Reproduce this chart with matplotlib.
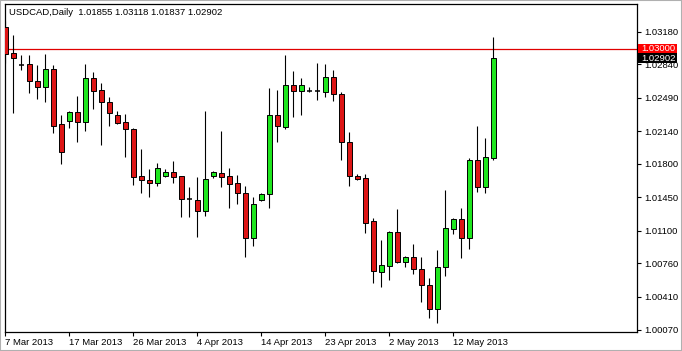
import matplotlib.pyplot as plt
import matplotlib.transforms as mtransforms
from matplotlib.patches import Rectangle
import numpy as np
import pandas as pd

plt.rcParams['font.family'] = ['Liberation Sans', 'DejaVu Sans']

symbol = "USDCAD,Daily"
# daily bars: the broker has Sunday sessions, no Saturdays
dates = pd.bdate_range("2013-03-07", "2013-05-17", freq="C",
                       weekmask="Sun Mon Tue Wed Thu Fri")

opens = [1.03227, 1.02956, 1.02831, 1.02841, 1.02663, 1.02601, 1.02789, 1.02215,
         1.02246, 1.02340, 1.02236, 1.02695, 1.02570, 1.02444, 1.02309, 1.02236,
         1.02163, 1.01672, 1.01630, 1.01599, 1.01672, 1.01714, 1.01672, 1.01432,
         1.01422, 1.01307, 1.01672, 1.01704, 1.01672, 1.01599, 1.01495, 1.01025,
         1.01422, 1.01484, 1.02309, 1.02184, 1.02622, 1.02559, 1.02559, 1.02559,
         1.02549, 1.02705, 1.02528, 1.02027, 1.01672, 1.01651, 1.01203, 1.00670,
         1.00733, 1.01088, 1.00775, 1.00827, 1.00702, 1.00535, 1.00284, 1.00723,
         1.01119, 1.01223, 1.01025, 1.01839, 1.01557, 1.01855]
highs = [1.03290, 1.03144, 1.02935, 1.02935, 1.02831, 1.02945, 1.02831, 1.02309,
         1.02351, 1.02507, 1.02841, 1.02757, 1.02643, 1.02497, 1.02351, 1.02319,
         1.02170, 1.01954, 1.01745, 1.01808, 1.01745, 1.01829, 1.01676, 1.01557,
         1.01662, 1.02351, 1.01720, 1.02142, 1.01756, 1.01683, 1.01568, 1.01453,
         1.01495, 1.02591, 1.02570, 1.02935, 1.02768, 1.02695, 1.02601, 1.02851,
         1.02841, 1.02778, 1.02549, 1.02131, 1.01693, 1.01693, 1.01234, 1.01004,
         1.01098, 1.01328, 1.00837, 1.00963, 1.00827, 1.00608, 1.00900, 1.01526,
         1.01234, 1.01338, 1.01860, 1.02194, 1.02069, 1.03118]
lows = [1.02851, 1.02330, 1.02778, 1.02538, 1.02476, 1.02444, 1.02121, 1.01798,
        1.02173, 1.02027, 1.02142, 1.02371, 1.01996, 1.02194, 1.02215, 1.01870,
        1.01578, 1.01495, 1.01453, 1.01568, 1.01662, 1.01599, 1.01244, 1.01244,
        1.01036, 1.01255, 1.01651, 1.01557, 1.01338, 1.01380, 1.00827, 1.00942,
        1.01411, 1.01338, 1.02027, 1.02163, 1.02288, 1.02309, 1.02549, 1.02465,
        1.02497, 1.02455, 1.01839, 1.01568, 1.01630, 1.01077, 1.00556, 1.00514,
        1.00587, 1.00764, 1.00723, 1.00650, 1.00357, 1.00190, 1.00138, 1.00629,
        1.01067, 1.00817, 1.00910, 1.01505, 1.01495, 1.01837]
closes = [1.02945, 1.02904, 1.02831, 1.02663, 1.02601, 1.02789, 1.02194, 1.01923,
          1.02340, 1.02236, 1.02695, 1.02559, 1.02444, 1.02330, 1.02225, 1.02163,
          1.01662, 1.01630, 1.01599, 1.01756, 1.01714, 1.01662, 1.01432, 1.01432,
          1.01307, 1.01641, 1.01714, 1.01662, 1.01589, 1.01495, 1.01025, 1.01380,
          1.01484, 1.02309, 1.02194, 1.02622, 1.02559, 1.02622, 1.02559, 1.02559,
          1.02705, 1.02528, 1.02027, 1.01672, 1.01641, 1.01182, 1.00681, 1.00743,
          1.01088, 1.00775, 1.00827, 1.00702, 1.00535, 1.00284, 1.00723, 1.01130,
          1.01223, 1.01025, 1.01839, 1.01557, 1.01870, 1.02902]

level = 1.03000
yticks = [1.00070, 1.00410, 1.00760, 1.01100, 1.01450, 1.01800,
          1.02140, 1.02490, 1.02840, 1.03180]

o, h, l, c = map(np.array, (opens, highs, lows, closes))
x = np.arange(len(o))
up = c > o
down = c < o
flat = c == o

fig = plt.figure(figsize=(6.82, 3.51), dpi=100)
ax = fig.add_axes([4.5 / 682, 19 / 351, 632.5 / 682, 328 / 351])

ax.axhline(level, color='#e00000', lw=0.9, zorder=1)
ax.vlines(x, l, h, color='black', lw=0.8, zorder=2)
ax.bar(x[up], (c - o)[up], bottom=o[up], width=0.62, color='#1ee61e',
       edgecolor='black', lw=0.7, zorder=3)
ax.bar(x[down], (o - c)[down], bottom=c[down], width=0.62, color='#dd1515',
       edgecolor='black', lw=0.7, zorder=3)
ax.hlines(c[flat], x[flat] - 0.35, x[flat] + 0.35, color='black', lw=1.1, zorder=3)

ax.set_xlim(-0.125, 78.94)
ax.set_ylim(1.00044, 1.03467)

idx = np.arange(0, len(dates), 8)
ax.set_xticks(idx)
ax.set_xticklabels([f"{d.day} {d:%b %Y}" for d in dates[idx]], ha='left')
ax.tick_params(axis='x', length=3, width=0.8, pad=1.5, labelsize=6.8)

ax.yaxis.tick_right()
ax.set_yticks(yticks)
ax.set_yticklabels([f"{v:.5f}" for v in yticks])
ax.tick_params(axis='y', length=3, width=0.8, pad=2, labelsize=6.8)
for s in ax.spines.values():
    s.set_linewidth(0.9)

ax.text(0.0076, 0.974,
        f"{symbol}  {opens[-1]:.5f} {highs[-1]:.5f} {lows[-1]:.5f} {closes[-1]:.5f}",
        transform=ax.transAxes, va='center', ha='left', fontsize=6.8)

# price tags on the right scale
trans = mtransforms.blended_transform_factory(ax.transAxes, ax.transData)
px = (1.03467 - 1.00044) / 328
for value, face in [(level, '#ff0000'), (closes[-1], 'black')]:
    ax.add_patch(Rectangle((1.002, value - 5 * px), 0.062, 10 * px, transform=trans,
                           facecolor=face, edgecolor='none', clip_on=False, zorder=5))
    ax.text(1.006, value, f"{value:.5f}", transform=trans, color='white',
            va='center', ha='left', fontsize=6.8, clip_on=False, zorder=6)

fig.add_artist(Rectangle((0, 0), 1, 1, transform=fig.transFigure, fill=False,
                         edgecolor='#b0b0b0', lw=1.5))

fig.savefig('out.png', dpi=100)
